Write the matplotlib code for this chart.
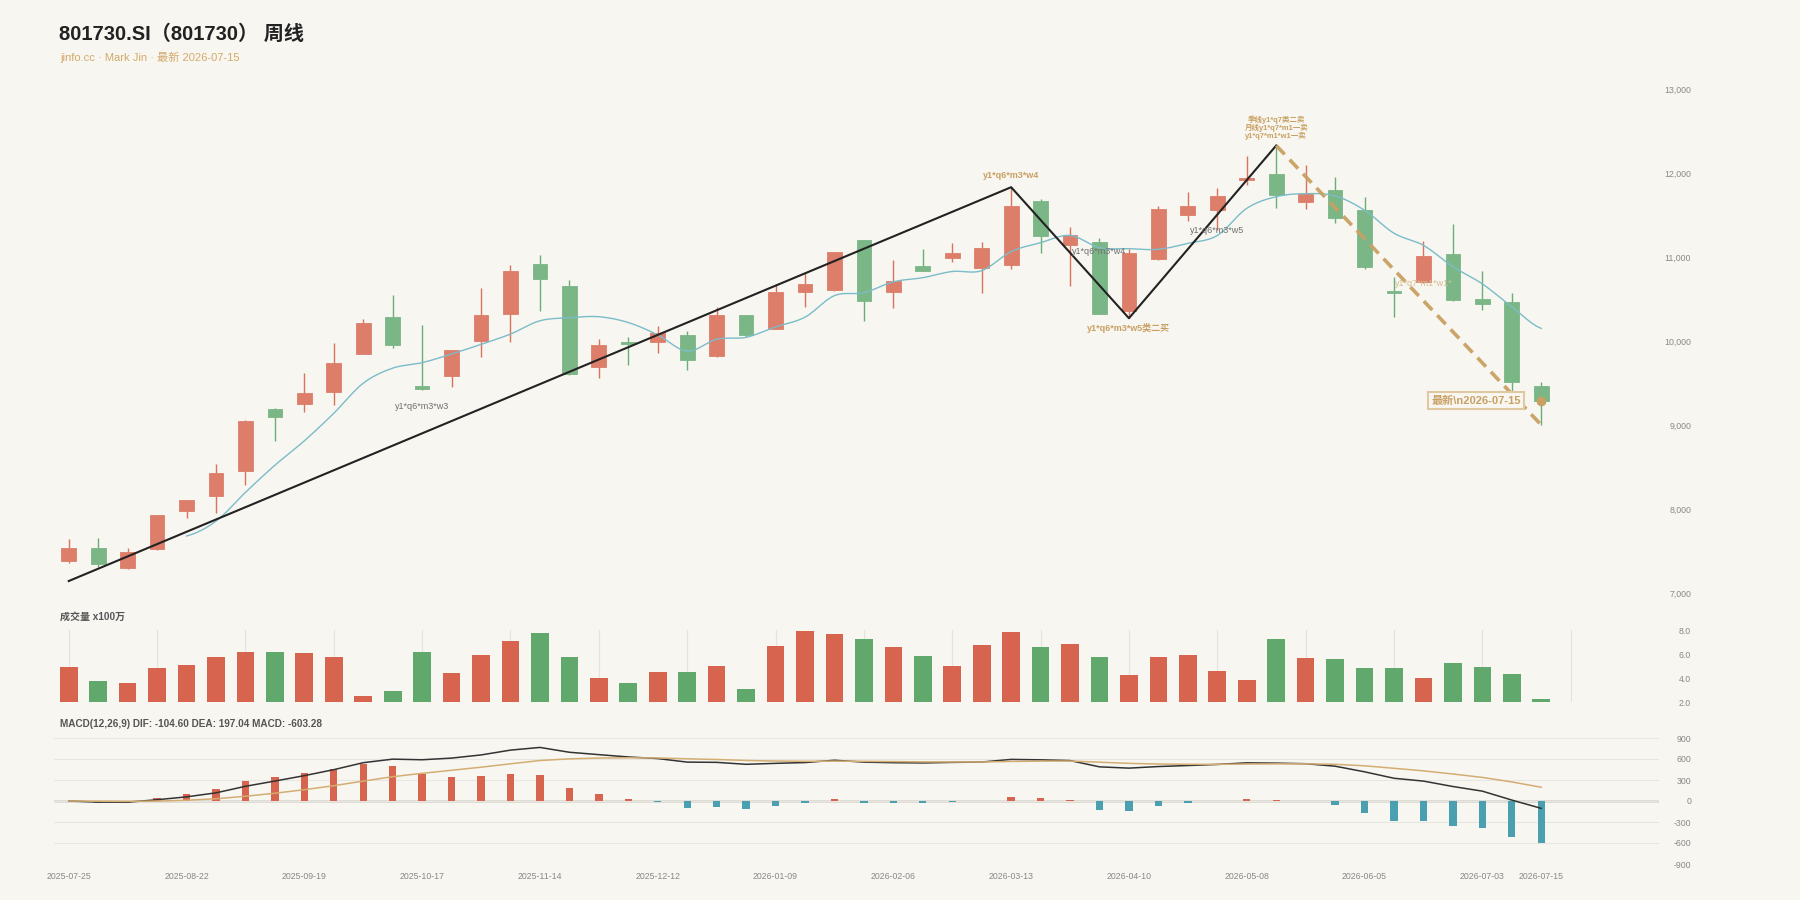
import numpy as np
import pandas as pd
import matplotlib
matplotlib.use('Agg')
import matplotlib.pyplot as plt

plt.rcParams['font.family'] = ['Liberation Sans', 'Noto Sans CJK SC', 'DejaVu Sans']

# ---------------- data ----------------
dates = ['2025-07-25', '2025-08-01', '2025-08-08', '2025-08-15', '2025-08-22', '2025-08-29',
         '2025-09-05', '2025-09-12', '2025-09-19', '2025-09-26', '2025-09-30', '2025-10-10',
         '2025-10-17', '2025-10-24', '2025-10-31', '2025-11-07', '2025-11-14', '2025-11-21',
         '2025-11-28', '2025-12-05', '2025-12-12', '2025-12-19', '2025-12-26', '2025-12-31',
         '2026-01-09', '2026-01-16', '2026-01-23', '2026-01-30', '2026-02-06', '2026-02-13',
         '2026-02-27', '2026-03-06', '2026-03-13', '2026-03-20', '2026-03-27', '2026-04-03',
         '2026-04-10', '2026-04-17', '2026-04-24', '2026-04-30', '2026-05-08', '2026-05-15',
         '2026-05-22', '2026-05-29', '2026-06-05', '2026-06-12', '2026-06-18', '2026-06-26',
         '2026-07-03', '2026-07-10', '2026-07-15']

opens = [7393, 7540, 7306, 7528, 7980, 8167, 8461, 9203, 9258, 9397,
         9853, 10290, 9476, 9591, 10012, 10333, 10929, 10659, 9695, 9996,
         9996, 10076, 9826, 10314, 10155, 10595, 10611, 11206, 10595, 10897,
         11000, 10877, 10917, 11675, 11155, 11183, 10369, 10980, 11504, 11560,
         11917, 12000, 11663, 11806, 11567, 10607, 10706, 11040, 10508, 10468, 9472]
highs = [7647, 7659, 7540, 7940, 8115, 8540, 9065, 9210, 9623, 9980,
         10266, 10552, 10199, 9905, 10639, 10913, 11032, 10734, 10028, 10056,
         10187, 10127, 10409, 10320, 10683, 10814, 11070, 11210, 10972, 11107,
         11179, 11187, 11837, 11702, 11369, 11230, 11099, 11615, 11778, 11829,
         12210, 12333, 12099, 11960, 11722, 10774, 11198, 11397, 10841, 10579, 9516]
lows = [7369, 7322, 7294, 7520, 7905, 7957, 8294, 8822, 9159, 9246,
        9850, 9921, 9425, 9457, 9822, 10000, 10369, 9605, 9572, 9722,
        9869, 9663, 9820, 10060, 10150, 10417, 10605, 10250, 10401, 10835,
        10952, 10583, 10861, 11060, 10667, 10325, 10278, 10975, 11440, 11329,
        11865, 11587, 11579, 11417, 10865, 10294, 10700, 10488, 10373, 9405, 9008]
closes = [7548, 7350, 7492, 7933, 8111, 8433, 9060, 9107, 9385, 9750,
          10222, 9956, 9433, 9901, 10322, 10837, 10746, 9611, 9964, 9976,
          10103, 9782, 10314, 10079, 10595, 10683, 11064, 10488, 10726, 10841,
          11052, 11115, 11619, 11258, 11270, 10329, 11052, 11583, 11611, 11738,
          11944, 11746, 11762, 11476, 10885, 10579, 11024, 10492, 10452, 9524, 9294]
volumes = [4.94, 3.78, 3.56, 4.81, 5.08, 5.72, 6.19, 6.14, 6.11, 5.75,
           2.50, 2.89, 6.19, 4.39, 5.94, 7.08, 7.78, 5.78, 4.00, 3.61,
           4.50, 4.50, 5.00, 3.06, 6.64, 7.92, 7.69, 7.25, 6.58, 5.81,
           5.03, 6.78, 7.81, 6.58, 6.86, 5.72, 4.28, 5.78, 5.89, 4.58,
           3.81, 7.25, 5.67, 5.56, 4.86, 4.81, 4.03, 5.22, 4.94, 4.36, 2.25]

# structure lines (pivot index, price)
bi_idx = [0, 32, 36, 41]
bi_price = [7151, 11837, 10278, 12333]
seg_idx = [41, 50]
seg_price = [12333, 9008]

# annotations: (index, price, text, kind)
notes = [
    (12, 9226, 'y1*q6*m3*w3', 'gray'),
    (32, 11973, 'y1*q6*m3*w4', 'gold'),
    (35, 11071, 'y1*q6*m3*w4', 'gray'),
    (36, 10159, 'y1*q6*m3*w5类二买', 'gold'),
    (39, 11321, 'y1*q6*m3*w5', 'gray'),
    (41, 12544, '季线y1*q7类二卖\n月线y1*q7*m1一卖\ny1*q7*m1*w1一卖', 'goldsmall'),
    (46, 10687, 'y1*q7*m1*w1*', 'pale'),
]

macd_text = 'MACD(12,26,9) DIF: -104.60 DEA: 197.04 MACD: -603.28'
title = '801730.SI（801730） 周线'
subtitle = 'jinfo.cc · Mark Jin · 最新 2026-07-15'
latest_label = '最新\\n2026-07-15'

price_ticks = [7000, 8000, 9000, 10000, 11000, 12000, 13000]
vol_ticks = [2.0, 4.0, 6.0, 8.0]
macd_ticks = [-900, -600, -300, 0, 300, 600, 900]

# ---------------- derived ----------------
o = np.array(opens, float); h = np.array(highs, float)
l = np.array(lows, float); c = np.array(closes, float)
n = len(c)
x = np.arange(n)
up = c >= o
ma5 = pd.Series(c).rolling(5).mean().values
ema12 = pd.Series(c).ewm(span=12, adjust=False).mean()
ema26 = pd.Series(c).ewm(span=26, adjust=False).mean()
dif = (ema12 - ema26).values
dea = pd.Series(dif).ewm(span=9, adjust=False).mean().values
hist = 2 * (dif - dea)


def smooth(xs, ys, k=12):
    xs = np.asarray(xs, float); ys = np.asarray(ys, float)
    ox, oy = [], []
    for i in range(len(xs) - 1):
        p0 = ys[i - 1] if i > 0 else ys[i]
        p1, p2 = ys[i], ys[i + 1]
        p3 = ys[i + 2] if i + 2 < len(ys) else ys[i + 1]
        t = np.linspace(0, 1, k, endpoint=False)
        yy = 0.5 * ((2 * p1) + (-p0 + p2) * t + (2 * p0 - 5 * p1 + 4 * p2 - p3) * t ** 2
                    + (-p0 + 3 * p1 - 3 * p2 + p3) * t ** 3)
        ox.extend(xs[i] + (xs[i + 1] - xs[i]) * t); oy.extend(yy)
    ox.append(xs[-1]); oy.append(ys[-1])
    return np.array(ox), np.array(oy)

# ---------------- style ----------------
BG = '#f7f6f1'
RED_C, GRN_C = '#dc7e6a', '#7bb686'
RED_W, GRN_W = '#d9735e', '#6aae78'
RED_V, GRN_V = '#d6644e', '#60a86c'
GOLD = '#c9a063'
TXT = '#888888'

fig = plt.figure(figsize=(18, 9), dpi=100, facecolor=BG)
L, W = 0.030, 0.8917
XLIM = (-0.5, 54)

ax = fig.add_axes([L, 0.3403, W, 0.5603], facecolor=BG)
axv = fig.add_axes([L, 0.22, W, 0.08], facecolor=BG)
axm = fig.add_axes([L, 0.04, W, 0.14], facecolor=BG)

for a in (ax, axv, axm):
    a.set_xlim(*XLIM)
    for s in a.spines.values():
        s.set_visible(False)
    a.yaxis.tick_right()
    a.tick_params(axis='both', length=0, labelsize=6.3, labelcolor=TXT)
    a.tick_params(axis='y', pad=23)

# ---- price panel ----
body_bottom = np.minimum(o, c)
body_h = np.maximum(np.abs(c - o), 8)
ax.vlines(x, l, h, colors=[RED_W if u else GRN_W for u in up], lw=1.0, zorder=2)
ax.bar(x, body_h, bottom=body_bottom, width=0.5,
       color=[RED_C if u else GRN_C for u in up],
       edgecolor=[RED_C if u else GRN_C for u in up], lw=0.6, zorder=3)
mx, my = smooth(x[4:], ma5[4:])
ax.plot(mx, my, color='#7bbcc9', lw=1.0, zorder=4)
ax.plot(bi_idx, bi_price, color='#222222', lw=1.5, zorder=5)
ax.plot(seg_idx, seg_price, color=GOLD, lw=2.6, ls=(0, (3.4, 2.0)), zorder=5, alpha=0.95)
ax.plot([x[-1]], [c[-1]], 'o', color=GOLD, ms=6, zorder=6)
ax.annotate(latest_label, xy=(x[-1], c[-1]), xytext=(-14.5, 0), textcoords='offset points',
            ha='right', va='center', fontsize=8, fontweight='bold', color=GOLD, zorder=7,
            bbox=dict(boxstyle='square,pad=0.3', fc=BG, ec='#e0c9a0', lw=1.5))
for xi, yi, t, kind in notes:
    if kind == 'gray':
        ax.text(xi, yi, t, ha='center', va='center', fontsize=6.5, color='#6f6f6f', zorder=8)
    elif kind == 'gold':
        ax.text(xi, yi, t, ha='center', va='center', fontsize=6.5, color=GOLD,
                fontweight='bold', zorder=8)
    elif kind == 'goldsmall':
        ax.text(xi, yi, t, ha='center', va='center', fontsize=5.4, color=GOLD,
                fontweight='bold', zorder=8, linespacing=1.0, multialignment='center')
    else:
        ax.text(xi, yi, t, ha='center', va='center', fontsize=6.5, color='#d6bd92', zorder=8)
ax.set_ylim(7000, 13000)
ax.set_yticks(price_ticks)
ax.set_yticklabels([f'{v:,}' for v in price_ticks], ha='right')
ax.set_xticks([])

# ---- volume panel ----
axv.bar(x, volumes, width=0.6, color=[RED_V if u else GRN_V for u in up], zorder=3)
axv.set_ylim(2.0, 8.0)
axv.set_yticks(vol_ticks)
axv.set_yticklabels([f'{v:.1f}' for v in vol_ticks], ha='right')
axv.set_xticks(np.arange(0, 55, 3))
axv.set_xticklabels([])
axv.grid(axis='x', color='#e6e3dc', lw=0.8, zorder=0)
fig.text(0.0333, 1 - 616.7 / 900, '成交量 x100万', fontsize=7.2, fontweight='bold',
         color='#555555', va='center', ha='left')

# ---- MACD panel ----
axm.bar(x, hist, width=0.25, color=[RED_V if v >= 0 else '#4a9fb1' for v in hist], zorder=3)
axm.axhline(0, color='#dcd9d2', lw=2, zorder=1)
axm.plot(x, dif, color='#333333', lw=1.1, zorder=4)
axm.plot(x, dea, color='#d4ad72', lw=1.1, zorder=4)
axm.set_ylim(-900, 900)
axm.set_yticks(macd_ticks)
axm.set_yticklabels([str(v) for v in macd_ticks], ha='right')
axm.grid(axis='y', color='#e8e6e0', lw=0.8, zorder=0)
tick_idx = list(range(0, n - 1, 4)) + [n - 1]
axm.set_xticks(tick_idx)
axm.set_xticklabels([dates[i] for i in tick_idx])
axm.tick_params(axis='x', pad=6)
fig.text(0.0333, 1 - 724 / 900, macd_text, fontsize=7.2, fontweight='bold',
         color='#555555', va='center', ha='left')

# ---- titles ----
fig.text(0.0328, 1 - 34 / 900, title, fontsize=14.5, fontweight='bold', color='#222222',
         va='center', ha='left')
fig.text(0.0333, 1 - 57.5 / 900, subtitle, fontsize=8, color='#d4aa6a', va='center', ha='left')

fig.savefig('out.png', dpi=100, facecolor=BG)
